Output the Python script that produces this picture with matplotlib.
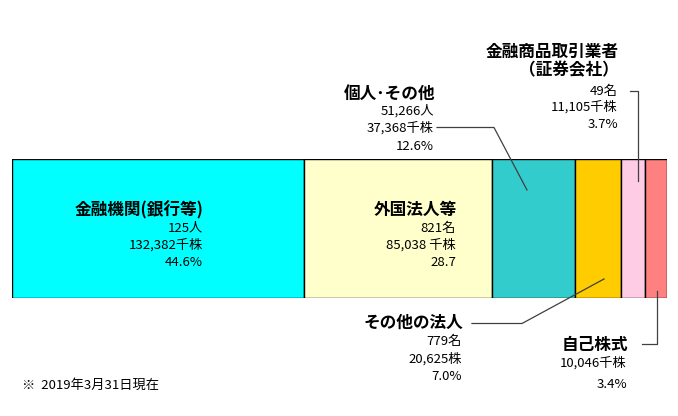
import matplotlib
matplotlib.use("Agg")
import matplotlib.pyplot as plt

plt.rcParams['font.family'] = ['Noto Sans CJK JP', 'DejaVu Sans']

categories = ['金融機関(銀行等)', '外国法人等', '個人･その他', 'その他の法人',
              '金融商品取引業者\n（証券会社）', '自己株式']
percents = [44.6, 28.7, 12.6, 7.0, 3.7, 3.4]
colors = ['#00ffff', '#ffffcc', '#33cccc', '#ffcc00', '#ffcce6', '#ff8080']
details = [
    ['125人', '132,382千株', '44.6%'],
    ['821名', '85,038 千株', '28.7'],
    ['51,266人', '37,368千株', '12.6%'],
    ['779名', '20,625株', '7.0%'],
    ['49名', '11,105千株', '3.7%'],
    ['10,046千株', '3.4%'],
]
note = '※  2019年3月31日現在'

W, H = 678, 416
fig = plt.figure(figsize=(W / 100, H / 100), dpi=100)

# bar axes placed in pixel box
bx0, bx1, by0, by1 = 12.3, 667.3, 159.3, 298.0
ax = fig.add_axes([bx0 / W, 1 - by1 / H, (bx1 - bx0) / W, (by1 - by0) / H])
left = 0
for p, c in zip(percents, colors):
    ax.barh(0.5, p, left=left, height=1.0, color=c, edgecolor='black', linewidth=1.0)
    left += p
ax.set_xlim(0, sum(percents))
ax.set_ylim(0, 1)
ax.axis('off')

# overlay in pixel coordinates for labels and leader lines
ov = fig.add_axes([0, 0, 1, 1], facecolor='none')
ov.set_xlim(0, W)
ov.set_ylim(H, 0)
ov.axis('off')

tsize = 12
ssize = 9.5
lc = '#404040'


def label(x, y_title, title, lines, y_lines):
    ov.text(x, y_title, title, ha='right', va='center', fontsize=tsize,
            fontweight='bold', linespacing=1.0)
    for s, y in zip(lines, y_lines):
        ov.text(x - 1, y, s, ha='right', va='center', fontsize=ssize)


label(204, 210, categories[0], details[0], [228, 245, 262])
label(457, 210, categories[1], details[1], [228, 245, 262])
label(435, 95, categories[2], details[2], [111, 128, 146])
label(463, 323, categories[3], details[3], [341, 359, 377])
label(619, 61, categories[4], details[4], [91, 107, 124])
label(628, 345, categories[5], details[5], [363, 385])

ov.text(22, 385, note, ha='left', va='center', fontsize=9.5)

# leader lines
ov.plot([437, 494, 527], [127.5, 127.5, 190], color=lc, lw=0.9)
ov.plot([630, 638, 638], [91, 91, 181], color=lc, lw=0.9)
ov.plot([472, 522, 604], [323.5, 323.5, 279], color=lc, lw=0.9)
ov.plot([642, 656.5, 656.5], [344, 344, 291], color=lc, lw=0.9)

fig.savefig('out.png', dpi=100)
